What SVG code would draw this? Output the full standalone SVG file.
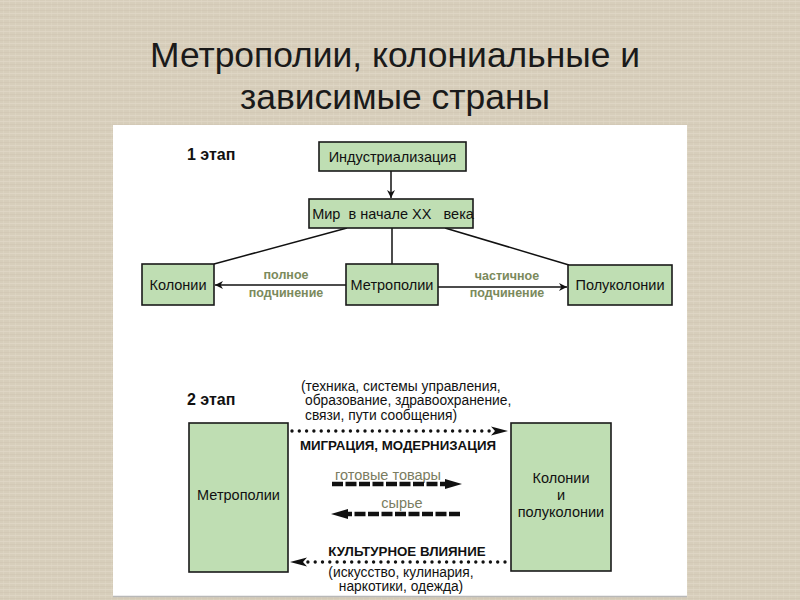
<svg xmlns="http://www.w3.org/2000/svg" width="800" height="600" viewBox="0 0 800 600">
<defs>
  <pattern id="linen" width="6" height="6" patternUnits="userSpaceOnUse">
    <rect width="6" height="6" fill="#d7cebb"/>
    <rect x="0" y="1" width="6" height="1" fill="#e2dbca" opacity="0.6"/>
    <rect x="3" y="0" width="1" height="6" fill="#e0d8c6" opacity="0.5"/>
    <rect x="0" y="4" width="6" height="1" fill="#cac0ab" opacity="0.35"/>
  </pattern>
  <marker id="ah" viewBox="0 0 10 10" refX="10" refY="5" markerWidth="10" markerHeight="8" markerUnits="userSpaceOnUse" orient="auto">
    <path d="M0,0 L10,5 L0,10 L3,5 Z" fill="#111"/>
  </marker>
</defs>
<style>
  .box { fill: #bfdeb3; stroke: #1a1a1a; stroke-width: 1.6; }
  .lbl { font-family: "Liberation Sans", Arial, sans-serif; font-size: 14.5px; fill: #111; text-anchor: middle; }
  .stage { font-family: "Liberation Sans", Arial, sans-serif; font-size: 16px; font-weight: bold; fill: #111; }
  .olive { font-family: "Liberation Sans", Arial, sans-serif; font-size: 12.5px; font-weight: bold; fill: #7b8a5c; text-anchor: middle; }
  .goods { font-family: "Liberation Sans", Arial, sans-serif; font-size: 14.5px; fill: #7a7c60; text-anchor: middle; }
  .caps { font-family: "Liberation Sans", Arial, sans-serif; font-size: 13.3px; font-weight: bold; fill: #111; text-anchor: middle; }
  .note { font-family: "Liberation Sans", Arial, sans-serif; font-size: 13.8px; fill: #111; }
  .title { font-family: "Liberation Sans", Arial, sans-serif; font-size: 35px; fill: #1a1a1a; text-anchor: middle; }
  .thin { stroke: #111; stroke-width: 1.5; fill: none; }
  .dots { stroke: #111; stroke-width: 3.4; stroke-linecap: round; stroke-dasharray: 0 7.3; fill: none; }
  .thick { stroke: #111; stroke-width: 4.5; stroke-dasharray: 11 2.5; fill: none; }
</style>
<rect width="800" height="600" fill="url(#linen)"/>
<text class="title" x="395" y="67" textLength="490" lengthAdjust="spacingAndGlyphs">Метрополии, колониальные и</text>
<text class="title" x="395" y="109" textLength="310" lengthAdjust="spacingAndGlyphs">зависимые страны</text>
<rect x="113" y="125" width="574" height="472" fill="#ffffff"/>
<line x1="113" y1="596.5" x2="687" y2="596.5" stroke="#b8b8b8" stroke-width="1.5"/>

<text class="stage" x="187" y="160">1 этап</text>
<text class="stage" x="187" y="405">2 этап</text>

<g id="connectors">
  <line class="thin" x1="391" y1="171" x2="391" y2="198" marker-end="url(#ah)"/>
  <line class="thin" x1="347" y1="228" x2="214" y2="264"/>
  <line class="thin" x1="392" y1="228" x2="392" y2="264"/>
  <line class="thin" x1="445" y1="228" x2="569" y2="265"/>
  <line class="thin" x1="346" y1="285" x2="215" y2="285" marker-end="url(#ah)"/>
  <line class="thin" x1="438" y1="287" x2="567" y2="287" marker-end="url(#ah)"/>
  <text class="olive" x="286" y="279">полное</text>
  <text class="olive" x="286" y="297">подчинение</text>
  <text class="olive" x="507" y="280">частичное</text>
  <text class="olive" x="507" y="297">подчинение</text>

  <line class="dots" x1="292" y1="431" x2="493" y2="431"/>
  <path d="M491,426.5 L508,431 L491,435.5 L495,431 Z" fill="#111"/>
  <text class="caps" x="398" y="450">МИГРАЦИЯ, МОДЕРНИЗАЦИЯ</text>
  <text class="note" x="301" y="391">(техника, системы управления,</text>
  <text class="note" x="305" y="405">образование, здравоохранение,</text>
  <text class="note" x="305" y="420">связи, пути сообщения)</text>

  <text class="goods" x="388" y="480">готовые  товары</text>
  <line class="thick" x1="332" y1="484" x2="447" y2="484"/>
  <path d="M445,479 L462,484 L445,489 Z" fill="#111"/>
  <text class="goods" x="402" y="508">сырье</text>
  <line class="thick" x1="460" y1="514" x2="346" y2="514"/>
  <path d="M348,509 L331,514 L348,519 Z" fill="#111"/>

  <line class="dots" x1="505" y1="562" x2="305" y2="562"/>
  <path d="M307,557.5 L290,562 L307,566.5 L303,562 Z" fill="#111"/>
  <text class="caps" x="407" y="556">КУЛЬТУРНОЕ  ВЛИЯНИЕ</text>
  <text class="note" x="401" y="577" text-anchor="middle">(искусство,  кулинария,</text>
  <text class="note" x="401" y="591" text-anchor="middle">наркотики, одежда)</text>
</g>

<g id="industrialization">
  <rect class="box" x="319" y="142" width="147" height="29"/>
  <text class="lbl" x="392.5" y="161.5">Индустриализация</text>
</g>
<g id="world">
  <rect class="box" x="309" y="199" width="164" height="29"/>
  <text class="lbl" x="393" y="218.5" xml:space="preserve">Мир  в начале ХХ   века</text>
</g>
<g id="colonies1">
  <rect class="box" x="142" y="264" width="72" height="41"/>
  <text class="lbl" x="178" y="289.5">Колонии</text>
</g>
<g id="metropolies1">
  <rect class="box" x="346" y="264" width="92" height="41"/>
  <text class="lbl" x="392" y="289.5">Метрополии</text>
</g>
<g id="semicolonies1">
  <rect class="box" x="568" y="265" width="104" height="40"/>
  <text class="lbl" x="620" y="289.5">Полуколонии</text>
</g>
<g id="metropolies2">
  <rect class="box" x="189" y="423" width="99" height="149"/>
  <text class="lbl" x="238.5" y="500">Метрополии</text>
</g>
<g id="colonies2">
  <rect class="box" x="511" y="423" width="100" height="148"/>
  <text class="lbl" x="561" y="483">Колонии</text>
  <text class="lbl" x="561" y="500">и</text>
  <text class="lbl" x="561" y="517">полуколонии</text>
</g>
</svg>
